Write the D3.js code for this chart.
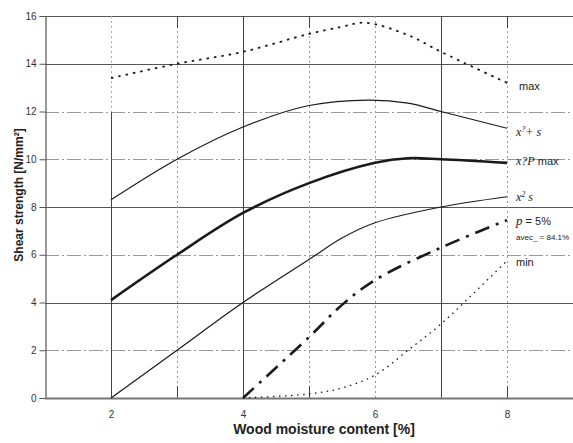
<!DOCTYPE html>
<html>
<head>
<meta charset="utf-8">
<script src="https://cdn.jsdelivr.net/npm/d3@7"></script>
<style>
  html, body { margin: 0; padding: 0; background: #fff; }
  svg { display: block; }
</style>
</head>
<body>
<svg id="chart" width="573" height="443"></svg>
<script>
// Moisture content (%) at which each curve is sampled
const moistureMax   = [2, 3, 4, 5, 5.5, 5.85, 6.5, 7, 8];
const shearMax      = [13.4, 14.0, 14.5, 15.25, 15.55, 15.72, 15.2, 14.5, 13.2];

const moistureUpper = [2, 3, 4, 5, 5.9, 6.5, 7, 8];
const shearUpper    = [8.3, 10.0, 11.35, 12.25, 12.48, 12.35, 12.0, 11.3];

const moistureMean  = [2, 3, 4, 5, 6, 6.5, 7, 8];
const shearMean     = [4.1, 6.0, 7.75, 9.0, 9.85, 10.04, 10.0, 9.85];

const moistureLower = [2, 3, 4, 5, 5.5, 6, 7, 8];
const shearLower    = [0, 2.0, 4.0, 5.8, 6.7, 7.34, 8.0, 8.43];

const moistureP5    = [4, 5, 5.5, 6, 7, 8];
const shearP5       = [0, 2.55, 3.9, 4.94, 6.3, 7.45];

const moistureMin   = [4, 5, 5.5, 6, 6.5, 7, 7.5, 8];
const shearMin      = [0, 0.17, 0.42, 0.96, 2.0, 3.1, 4.4, 5.75];

const xTickValues = [2, 4, 6, 8];
const yTickValues = [0, 2, 4, 6, 8, 10, 12, 14, 16];
const xGridValues = [2, 3, 4, 5, 6, 7, 8];

const svg = d3.select("#chart");
const x = d3.scaleLinear().domain([1, 9]).range([45, 573]);
const y = d3.scaleLinear().domain([0, 16]).range([398, 16]);

const g = svg.append("g");

// Horizontal grid
const strongRows = new Set([16, 14, 8, 4]);
g.selectAll("line.hgrid").data(yTickValues.filter(v => v > 0)).join("line")
  .attr("x1", x(1)).attr("x2", 573)
  .attr("y1", d => Math.round(y(d)) + 0.5).attr("y2", d => Math.round(y(d)) + 0.5)
  .attr("stroke", d => strongRows.has(d) ? "#555" : "#999")
  .attr("stroke-width", 1)
  .attr("stroke-dasharray", d => strongRows.has(d) ? null : "14 3 2 3");

// Vertical grid
const solidCols = new Set([4, 7]);
g.selectAll("line.vgrid").data(xGridValues).join("line")
  .attr("x1", d => Math.round(x(d)) + 0.5).attr("x2", d => Math.round(x(d)) + 0.5)
  .attr("y1", d => d === 2 ? y(12) : y(16)).attr("y2", y(0))
  .attr("stroke", d => (solidCols.has(d) || d === 2) ? "#444" : "#999")
  .attr("stroke-width", 1)
  .attr("stroke-dasharray", d => (solidCols.has(d) || d === 2) ? null : "2 3");
// upper part of the 2% column is faint
g.append("line")
  .attr("x1", Math.round(x(2)) + 0.5).attr("x2", Math.round(x(2)) + 0.5)
  .attr("y1", y(16)).attr("y2", y(12))
  .attr("stroke", "#aaa").attr("stroke-dasharray", "2 3");
// short ticks at the intermediate columns
[3, 5, 8].forEach(v => {
  g.append("line")
    .attr("x1", Math.round(x(v)) + 0.5).attr("x2", Math.round(x(v)) + 0.5)
    .attr("y1", y(16)).attr("y2", y(16) + 12).attr("stroke", "#444");
  g.append("line")
    .attr("x1", Math.round(x(v)) + 0.5).attr("x2", Math.round(x(v)) + 0.5)
    .attr("y1", y(0) - 12).attr("y2", y(0)).attr("stroke", "#444");
});

// Axes
const yAxis = d3.axisLeft(y).tickValues(yTickValues).tickSize(6).tickPadding(3);
const yg = svg.append("g").attr("transform", `translate(${Math.round(x(1)) + 0.5},0)`).call(yAxis);
const xAxis = d3.axisBottom(x).tickValues(xTickValues).tickSize(0).tickPadding(12);
const xg = svg.append("g").attr("transform", `translate(0,${Math.round(y(0)) + 0.5})`).call(xAxis);
[yg, xg].forEach(a => {
  a.select(".domain").attr("stroke", "#555").attr("stroke-width", 1.2);
  a.selectAll(".tick line").attr("stroke", "#555");
  a.selectAll("text").attr("font-family", "Liberation Sans, Arial, sans-serif")
    .attr("font-size", 10).attr("fill", "#333");
});
xg.select(".domain").attr("d", `M${x(1)},0H573`).attr("stroke-width", 2).attr("stroke", "#777");

// Axis titles
svg.append("text")
  .attr("transform", `translate(23,195) rotate(-90)`)
  .attr("text-anchor", "middle")
  .attr("font-family", "Liberation Sans, Arial, sans-serif")
  .attr("font-weight", "bold").attr("font-size", 12).attr("fill", "#222")
  .text("Shear strength [N/mm²]");
svg.append("text")
  .attr("x", 324).attr("y", 434)
  .attr("text-anchor", "middle")
  .attr("font-family", "Liberation Sans, Arial, sans-serif")
  .attr("font-weight", "bold").attr("font-size", 14).attr("fill", "#222")
  .text("Wood moisture content [%]");

// Curves
const curves = [
  { xs: moistureMax,   ys: shearMax,   width: 1.8, dash: "2.5 5" },
  { xs: moistureUpper, ys: shearUpper, width: 1.2, dash: null },
  { xs: moistureMean,  ys: shearMean,  width: 2.6, dash: null },
  { xs: moistureLower, ys: shearLower, width: 1.2, dash: null },
  { xs: moistureP5,    ys: shearP5,    width: 2.6, dash: "15 7 3 7" },
  { xs: moistureMin,   ys: shearMin,   width: 1.3, dash: "1.5 4.5" }
];
const line = d3.line().x(d => x(d[0])).y(d => y(d[1])).curve(d3.curveCatmullRom.alpha(0.5));
svg.append("g").selectAll("path").data(curves).join("path")
  .attr("d", c => line(c.xs.map((v, i) => [v, c.ys[i]])))
  .attr("fill", "none")
  .attr("stroke", "#1a1a1a")
  .attr("stroke-width", c => c.width)
  .attr("stroke-dasharray", c => c.dash);

// Curve labels
const lab = svg.append("g").attr("fill", "#222");
const sans = "Liberation Sans, Arial, sans-serif";
const serif = "Liberation Serif, Times New Roman, serif";
lab.append("text").attr("x", 519).attr("y", 90)
  .attr("font-family", sans).attr("font-size", 11).text("max");

const t1 = lab.append("text").attr("x", 516).attr("y", 136)
  .attr("font-family", serif).attr("font-size", 12).attr("font-style", "italic");
t1.append("tspan").text("x");
t1.append("tspan").attr("font-size", 8).attr("dy", -4).text("?");
t1.append("tspan").attr("dy", 4).text("+ s");

const t2 = lab.append("text").attr("x", 516).attr("y", 165)
  .attr("font-family", serif).attr("font-size", 12);
t2.append("tspan").attr("font-style", "italic").text("x?P");
t2.append("tspan").attr("font-family", sans).attr("font-size", 11).text(" max");

const t3 = lab.append("text").attr("x", 516).attr("y", 201)
  .attr("font-family", serif).attr("font-size", 12).attr("font-style", "italic");
t3.append("tspan").text("x");
t3.append("tspan").attr("font-size", 8).attr("dy", -4).text("2");
t3.append("tspan").attr("dy", 4).text(" s");

const t4 = lab.append("text").attr("x", 516).attr("y", 225)
  .attr("font-family", serif).attr("font-size", 13);
t4.append("tspan").attr("font-style", "italic").text("p");
t4.append("tspan").attr("font-family", sans).attr("font-size", 11).text(" = 5%");
lab.append("text").attr("x", 516).attr("y", 240)
  .attr("font-family", sans).attr("font-size", 8).text("avec_ = 84.1%");

lab.append("text").attr("x", 516).attr("y", 266)
  .attr("font-family", sans).attr("font-size", 11).text("min");
</script>
</body>
</html>
